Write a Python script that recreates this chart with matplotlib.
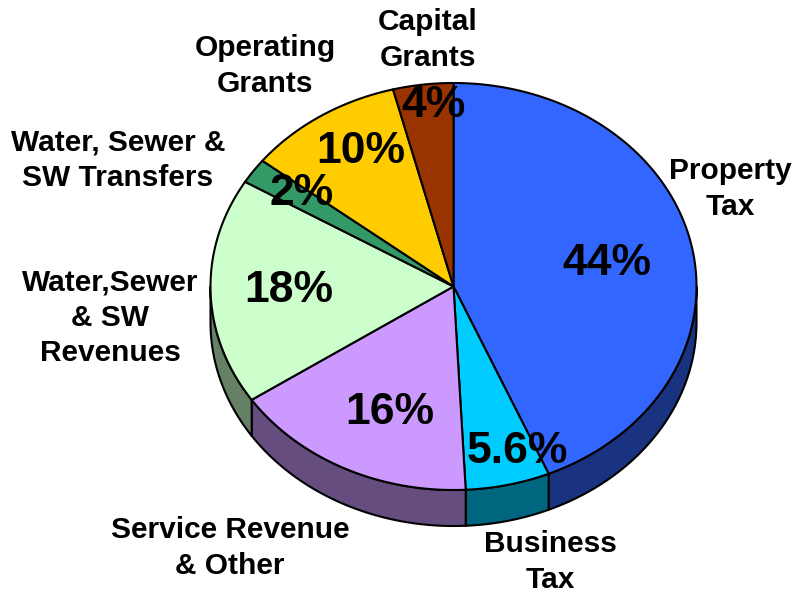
import numpy as np
import matplotlib
matplotlib.use("Agg")
import matplotlib.pyplot as plt
from matplotlib.patches import Polygon
from matplotlib.colors import to_rgb

plt.rcParams["font.family"] = ["Liberation Sans", "DejaVu Sans"]

categories = [
    "Property\nTax",
    "Business\nTax",
    "Service Revenue\n& Other",
    "Water,Sewer\n& SW\nRevenues",
    "Water, Sewer &\nSW Transfers",
    "Operating\nGrants",
    "Capital\nGrants",
]
# shares (labels are the rounded figures)
shares = [43.6, 5.6, 16.4, 18.0, 2.0, 10.4, 4.0]
pct_labels = ["44%", "5.6%", "16%", "18%", "2%", "10%", "4%"]
colors = ["#3366FF", "#00CCFF", "#CC99FF", "#CCFFCC", "#339966", "#FFCC00", "#993300"]

# layout (pixels)
CX, CY = 453.5, 286.5
RX, RY = 243, 203.5
DEPTH = 36
pct_pos = [(607, 275), (517, 463), (390, 424), (289, 302), (302, 205), (361, 163), (433, 117)]
cat_pos = [(730, 189), (550, 562), (230, 548), (110, 318), (118, 160), (265, 66), (428, 40)]


def ell(theta_deg, dy=0):
    t = np.radians(theta_deg)
    return np.column_stack([CX + RX * np.cos(t), CY - RY * np.sin(t) + dy])


def darker(c, f=0.5):
    return tuple(v * f for v in to_rgb(c))


fig = plt.figure(figsize=(7.95, 5.94), dpi=100)
ax = fig.add_axes([0, 0, 1, 1])
ax.set_xlim(0, 795)
ax.set_ylim(594, 0)
ax.axis("off")

total = sum(shares)
cum = np.concatenate([[0], np.cumsum(shares)])
starts = 90 - cum[:-1] / total * 360
ends = 90 - cum[1:] / total * 360

# side walls (only the front half shows)
for a1, a2, c in zip(starts, ends, colors):
    v_hi = min(a1, 0)
    v_lo = max(a2, -180)
    if v_hi <= v_lo:
        continue
    th = np.linspace(v_hi, v_lo, 80)
    top = ell(th)
    bot = ell(th[::-1], DEPTH)
    ax.add_patch(Polygon(np.vstack([top, bot]), closed=True, fc=darker(c),
                         ec="black", lw=1.5, zorder=1))

# top faces
for a1, a2, c in zip(starts, ends, colors):
    th = np.linspace(a1, a2, 120)
    pts = np.vstack([[CX, CY], ell(th)])
    ax.add_patch(Polygon(pts, closed=True, fc=c, ec="black", lw=1.5,
                         joinstyle="round", zorder=2))

for (x, y), t in zip(pct_pos, pct_labels):
    ax.text(x, y, t, ha="center", va="baseline", fontsize=32,
            fontweight="bold", zorder=5)

for (x, y), t in zip(cat_pos, categories):
    ax.text(x, y, t, ha="center", va="center", multialignment="center",
            fontsize=21.5, fontweight="bold", linespacing=1.33, zorder=5)

fig.savefig("out.png", dpi=100)
